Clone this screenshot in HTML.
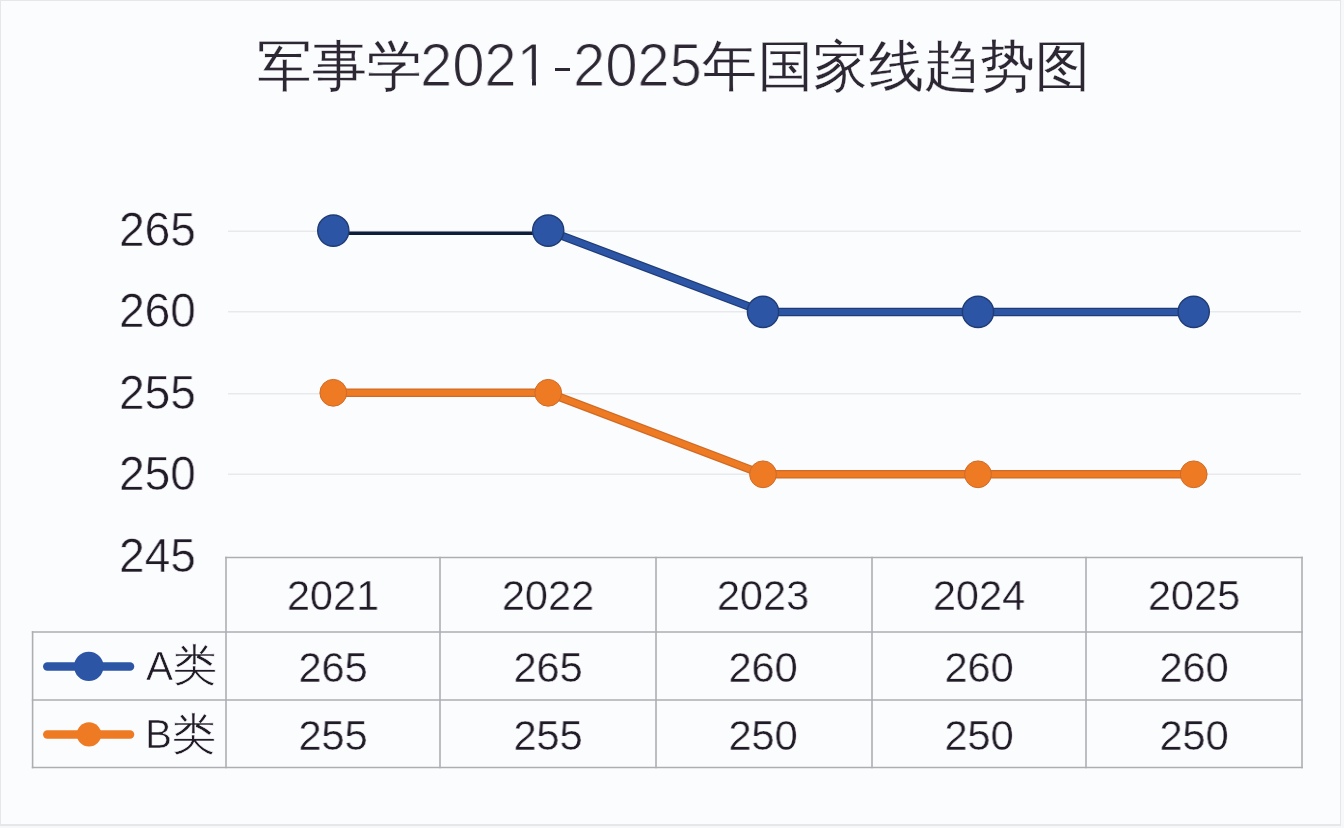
<!DOCTYPE html>
<html><head><meta charset="utf-8">
<style>
html,body{margin:0;padding:0;}
body{width:1344px;height:828px;overflow:hidden;background:#f7f8fa;position:relative;font-family:"Liberation Sans",sans-serif;color:#211b27;}
.frame{position:absolute;left:0;top:0;width:1339px;height:823px;border:1px solid #e6e7eb;border-bottom-width:2px;background:#fbfcfe;}
.t{position:absolute;white-space:nowrap;line-height:1;will-change:transform;-webkit-text-stroke:0.6px #fbfcfe;}
.ttl{color:#2c2733;}
.cj{-webkit-text-stroke-width:0.25px;}
.dg{-webkit-text-stroke-width:1.1px;font-size:61px;transform:scaleX(0.95);transform-origin:0 0;}
.ya{font-size:49px;transform:scaleX(0.94);transform-origin:0 0;}
.hd{font-size:43px;width:200px;text-align:center;transform:scaleX(0.965);-webkit-text-stroke-width:0.4px;}
.lg{font-size:40.5px;}
.lc{font-size:44px;}
svg{position:absolute;left:0;top:0;}
</style></head><body>
<div class="frame"></div>
<svg width="1344" height="828" viewBox="0 0 1344 828">
<g stroke="#e8e9ec" stroke-width="1.5">
<line x1="228" y1="231.2" x2="1301" y2="231.2"/>
<line x1="228" y1="311.7" x2="1301" y2="311.7"/>
<line x1="228" y1="393.8" x2="1301" y2="393.8"/>
<line x1="228" y1="474.3" x2="1301" y2="474.3"/>
</g>
<g stroke="#aeaeb2" stroke-width="1.6" fill="none" stroke-linecap="square">
<line x1="226" y1="557.5" x2="1302" y2="557.5"/>
<line x1="32.6" y1="632" x2="1302" y2="632"/>
<line x1="32.6" y1="700" x2="1302" y2="700"/>
<line x1="32.6" y1="767.5" x2="1302" y2="767.5"/>
<line x1="32.6" y1="632" x2="32.6" y2="767.5"/>
<line x1="226" y1="557.5" x2="226" y2="767.5"/>
<line x1="440" y1="557.5" x2="440" y2="767.5"/>
<line x1="656" y1="557.5" x2="656" y2="767.5"/>
<line x1="872" y1="557.5" x2="872" y2="767.5"/>
<line x1="1086" y1="557.5" x2="1086" y2="767.5"/>
<line x1="1302" y1="557.5" x2="1302" y2="767.5"/>
</g>
<line x1="333.3" y1="233.3" x2="548.2" y2="233.3" stroke="#0f1d3c" stroke-width="3.5"/>
<polyline points="548.2,230.6 763,311.9 978,311.9 1193.7,311.9" stroke="#203c76" stroke-width="8.5" fill="none" stroke-linejoin="round"/>
<polyline points="548.2,230.6 763,311.9 978,311.9 1193.7,311.9" stroke="#2c55a5" stroke-width="6.0" fill="none" stroke-linejoin="round"/>
<circle cx="333.3" cy="230.6" r="15.6" fill="#2c55a5" stroke="#203c76" stroke-width="1.4"/>
<circle cx="548.2" cy="230.6" r="15.6" fill="#2c55a5" stroke="#203c76" stroke-width="1.4"/>
<circle cx="763" cy="311.9" r="15.6" fill="#2c55a5" stroke="#203c76" stroke-width="1.4"/>
<circle cx="978" cy="311.9" r="15.6" fill="#2c55a5" stroke="#203c76" stroke-width="1.4"/>
<circle cx="1193.7" cy="311.9" r="15.6" fill="#2c55a5" stroke="#203c76" stroke-width="1.4"/>
<polyline points="333.3,392.8 548.2,392.8 763,474.3 978,474.3 1193.7,474.3" stroke="#cf6b26" stroke-width="8.5" fill="none" stroke-linejoin="round"/>
<polyline points="333.3,392.8 548.2,392.8 763,474.3 978,474.3 1193.7,474.3" stroke="#ee7b24" stroke-width="6.0" fill="none" stroke-linejoin="round"/>
<circle cx="333.3" cy="392.8" r="13.4" fill="#ee7b24" stroke="#cf6b26" stroke-width="1"/>
<circle cx="548.2" cy="392.8" r="13.4" fill="#ee7b24" stroke="#cf6b26" stroke-width="1"/>
<circle cx="763" cy="474.3" r="13.4" fill="#ee7b24" stroke="#cf6b26" stroke-width="1"/>
<circle cx="978" cy="474.3" r="13.4" fill="#ee7b24" stroke="#cf6b26" stroke-width="1"/>
<circle cx="1193.7" cy="474.3" r="13.4" fill="#ee7b24" stroke="#cf6b26" stroke-width="1"/>
<line x1="47.3" y1="666.4" x2="130" y2="666.4" stroke="#2c55a5" stroke-width="8.5" stroke-linecap="round"/>
<circle cx="88.8" cy="666.4" r="14.7" fill="#2c55a5"/>
<line x1="47.3" y1="734.4" x2="130" y2="734.4" stroke="#ee7b24" stroke-width="8.5" stroke-linecap="round"/>
<circle cx="89" cy="734.4" r="12.2" fill="#ee7b24"/>
</svg>
<div class="t ttl cj" style="left:257px;top:39px;font-size:55px;">军事学</div>
<div class="t ttl dg" style="left:420px;top:34.5px;">2021</div>
<div style="position:absolute;left:554.7px;top:67.8px;width:15px;height:3px;background:#2c2733;"></div>
<div class="t ttl dg" style="left:573px;top:34.5px;">2025</div>
<div class="t ttl cj" style="left:702px;top:39px;font-size:55px;letter-spacing:0.5px;">年国家线趋势图</div>
<div style="position:absolute;left:519px;top:79px;width:12.5px;height:8px;background:#fbfcfe;"></div>
<div style="position:absolute;left:536px;top:79px;width:12px;height:8px;background:#fbfcfe;"></div>
<div class="t ya" style="left:118.5px;top:205.0px;">265</div>
<div class="t ya" style="left:118.5px;top:286.4px;">260</div>
<div class="t ya" style="left:118.5px;top:367.8px;">255</div>
<div class="t ya" style="left:118.5px;top:449.2px;">250</div>
<div class="t ya" style="left:118.5px;top:530.6px;">245</div>
<div class="t hd" style="left:232.5px;top:574px;">2021</div>
<div class="t hd" style="left:448px;top:574px;">2022</div>
<div class="t hd" style="left:663px;top:574px;">2023</div>
<div class="t hd" style="left:878.5px;top:574px;">2024</div>
<div class="t hd" style="left:1094px;top:574px;">2025</div>
<div class="t hd" style="left:232.5px;top:645.5px;">265</div>
<div class="t hd" style="left:448px;top:645.5px;">265</div>
<div class="t hd" style="left:663px;top:645.5px;">260</div>
<div class="t hd" style="left:878.5px;top:645.5px;">260</div>
<div class="t hd" style="left:1094px;top:645.5px;">260</div>
<div class="t hd" style="left:232.5px;top:714px;">255</div>
<div class="t hd" style="left:448px;top:714px;">255</div>
<div class="t hd" style="left:663px;top:714px;">250</div>
<div class="t hd" style="left:878.5px;top:714px;">250</div>
<div class="t hd" style="left:1094px;top:714px;">250</div>
<div class="t lg" style="left:146px;top:646.3px;">A</div>
<div class="t lc" style="left:172.8px;top:643px;">类</div>
<div class="t lg" style="left:145.3px;top:714.3px;">B</div>
<div class="t lc" style="left:171.5px;top:711.5px;">类</div>
</body></html>
